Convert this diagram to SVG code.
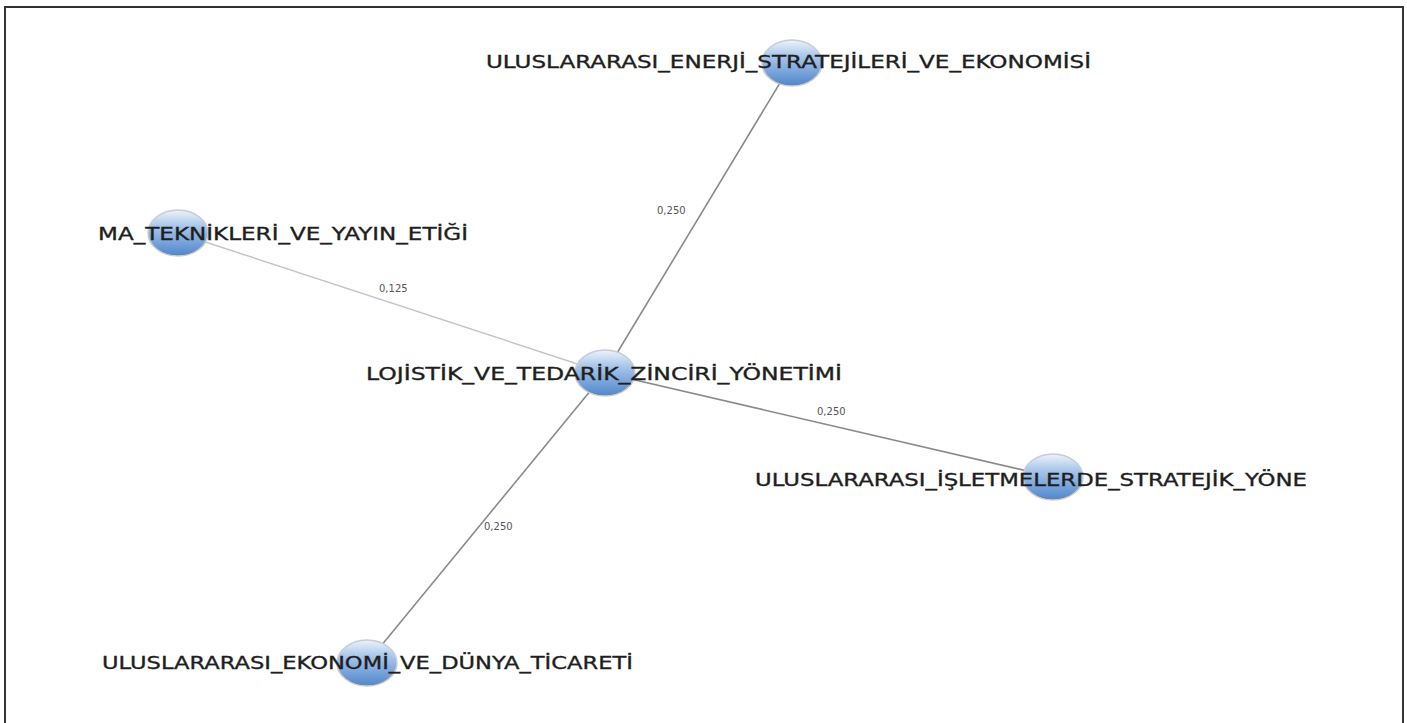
<svg xmlns="http://www.w3.org/2000/svg" width="1407" height="723" viewBox="0 0 1407 723">
<defs>
<linearGradient id="ng" x1="0" y1="0" x2="0" y2="1">
<stop offset="0" stop-color="#eef3fa"/>
<stop offset="0.35" stop-color="#a9c6ea"/>
<stop offset="1" stop-color="#4f86cc"/>
</linearGradient>
<style>
.node{fill:url(#ng);stroke:#c9ccd2;stroke-width:1.5}
.lbl{font-family:"DejaVu Sans",Verdana,sans-serif;font-size:18px;fill:#1e1e1e;stroke:#1e1e1e;stroke-width:0.35}
.el{font-family:"DejaVu Sans",Verdana,sans-serif;font-size:10px;fill:#555}
.e{stroke:#8a8a8a;stroke-width:1.6;fill:none}
.e2{stroke:#c4c4c4;stroke-width:1.4;fill:none}
</style>
</defs>
<rect x="0" y="0" width="1407" height="723" fill="#fff"/>
<rect x="5" y="7" width="1398" height="730" fill="none" stroke="#333" stroke-width="2"/>
<g id="connectors">
<line class="e" x1="605" y1="373" x2="792" y2="63"/>
<line class="e2" x1="605" y1="373" x2="178" y2="233"/>
<line class="e" x1="605" y1="373" x2="1053" y2="477"/>
<line class="e" x1="605" y1="373" x2="367" y2="663"/>
<text class="el" x="657" y="214">0,250</text>
<text class="el" x="379" y="292">0,125</text>
<text class="el" x="817" y="415">0,250</text>
<text class="el" x="484" y="530">0,250</text>
</g>
<g id="n-top">
<ellipse class="node" cx="792" cy="63" rx="30" ry="23"/>
<text class="lbl" x="486" y="68" textLength="605" lengthAdjust="spacingAndGlyphs">ULUSLARARASI_ENERJİ_STRATEJİLERİ_VE_EKONOMİSİ</text>
</g>
<g id="n-left">
<ellipse class="node" cx="178" cy="233" rx="30" ry="23"/>
<text class="lbl" x="98" y="240" textLength="370" lengthAdjust="spacingAndGlyphs">MA_TEKNİKLERİ_VE_YAYIN_ETİĞİ</text>
</g>
<g id="n-center">
<ellipse class="node" cx="605" cy="373" rx="30" ry="23"/>
<text class="lbl" x="366" y="380" textLength="476" lengthAdjust="spacingAndGlyphs">LOJİSTİK_VE_TEDARİK_ZİNCİRİ_YÖNETİMİ</text>
</g>
<g id="n-right">
<ellipse class="node" cx="1053" cy="477" rx="30" ry="23"/>
<text class="lbl" x="755" y="486" textLength="552" lengthAdjust="spacingAndGlyphs">ULUSLARARASI_İŞLETMELERDE_STRATEJİK_YÖNE</text>
</g>
<g id="n-bottom">
<ellipse class="node" cx="367" cy="663" rx="30" ry="23"/>
<text class="lbl" x="102" y="669" textLength="531" lengthAdjust="spacingAndGlyphs">ULUSLARARASI_EKONOMİ_VE_DÜNYA_TİCARETİ</text>
</g>
</svg>
